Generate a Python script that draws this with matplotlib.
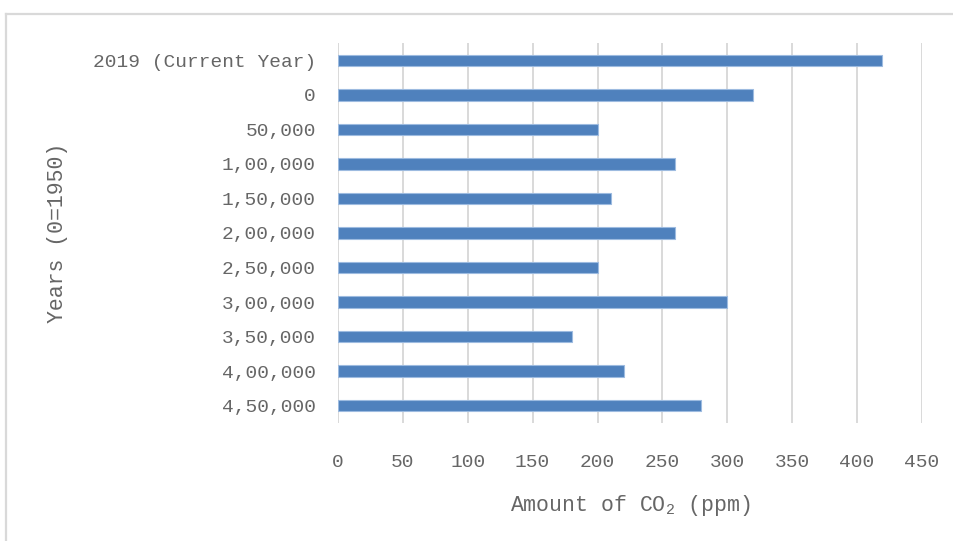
import matplotlib.pyplot as plt
from matplotlib.lines import Line2D

# CO2 concentration at different points in time (ppm)
years = [
    "2019 (Current Year)", "0", "50,000", "1,00,000", "1,50,000", "2,00,000",
    "2,50,000", "3,00,000", "3,50,000", "4,00,000", "4,50,000",
]
co2_ppm = [419, 320, 200, 260, 210, 260, 200, 300, 180, 220, 280]
x_ticks = [0, 50, 100, 150, 200, 250, 300, 350, 400, 450]

TEXT = "#666666"
GRID = "#d9d9d9"
BAR = "#4f81bd"

plt.rcParams["font.family"] = ["Liberation Mono", "DejaVu Sans"]
plt.rcParams["mathtext.fontset"] = "custom"
plt.rcParams["mathtext.rm"] = "Liberation Mono"
plt.rcParams["mathtext.it"] = "Liberation Mono"

W, H = 954, 541
fig = plt.figure(figsize=(W / 100, H / 100), dpi=100)

# chart frame (only top and left edges fall inside the image)
fig.add_artist(Line2D([6 / W, 1], [1 - 14 / H, 1 - 14 / H], color=GRID, lw=1.6))
fig.add_artist(Line2D([6 / W, 6 / W], [0, 1 - 14 / H], color=GRID, lw=1.6))

ax = fig.add_axes([338 / W, 1 - 423 / H, 584 / W, 380 / H])

pos = list(range(len(years)))
ax.barh(pos, co2_ppm, height=0.33, color=BAR, edgecolor="#9dbbe0", linewidth=0.8, zorder=3)

ax.set_xlim(0, 450)
ax.set_ylim(len(years) - 0.5, -0.5)
ax.set_xticks(x_ticks)
ax.set_yticks(pos)
ax.set_yticklabels(years)

ax.grid(axis="x", color=GRID, linewidth=1.4, zorder=0)
ax.set_axisbelow(True)
for s in ax.spines.values():
    s.set_visible(False)

ax.tick_params(axis="both", length=0, labelsize=14, labelcolor=TEXT)
ax.tick_params(axis="y", pad=16)
ax.tick_params(axis="x", pad=22)

ax.set_xlabel("Amount of CO$_2$ (ppm)", fontsize=15.5, color=TEXT, labelpad=16)
ax.set_ylabel("Years (0=1950)", fontsize=15.5, color=TEXT, labelpad=18)

fig.savefig("out.png", dpi=100, facecolor="white")
